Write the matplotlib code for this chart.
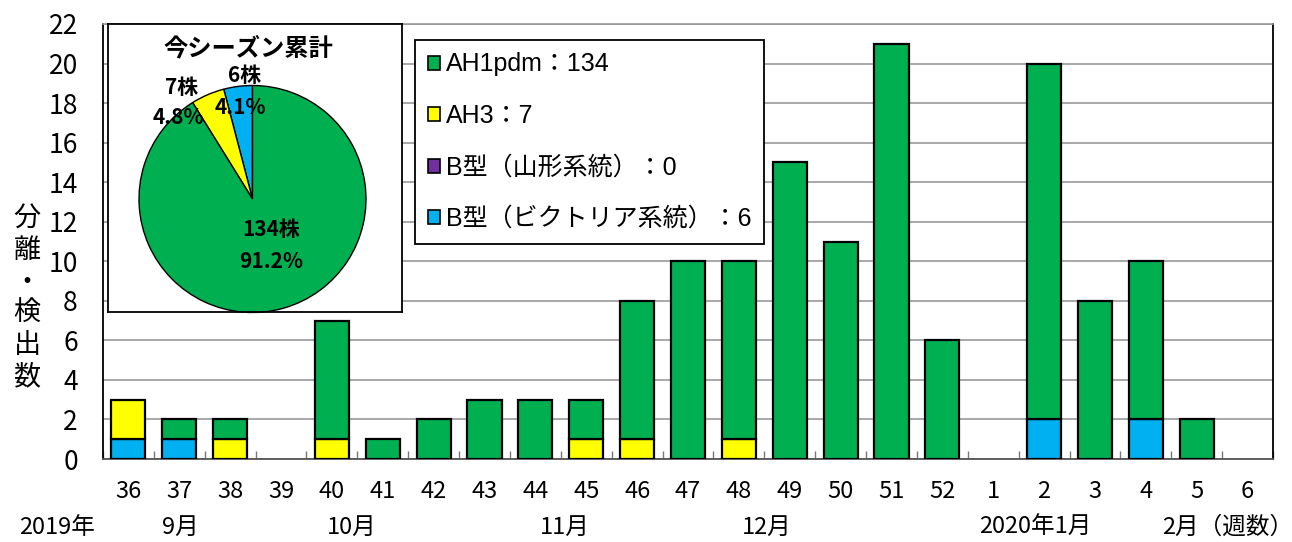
import matplotlib
matplotlib.use("Agg")
from matplotlib import pyplot as plt
from matplotlib.patches import Patch
import numpy as np

plt.rcParams["font.family"] = ["Liberation Sans Narrow", "Noto Sans CJK JP", "DejaVu Sans"]

# weekly counts
weeks = ["36", "37", "38", "39", "40", "41", "42", "43", "44", "45", "46", "47",
         "48", "49", "50", "51", "52", "1", "2", "3", "4", "5", "6"]
ah1pdm = [0, 1, 1, 0, 6, 1, 2, 3, 3, 2, 7, 10, 9, 15, 11, 21, 6, 0, 18, 8, 8, 2, 0]
ah3 = [2, 0, 1, 0, 1, 0, 0, 0, 0, 1, 1, 0, 1, 0, 0, 0, 0, 0, 0, 0, 0, 0, 0]
b_yamagata = [0] * 23
b_victoria = [1, 1, 0, 0, 0, 0, 0, 0, 0, 0, 0, 0, 0, 0, 0, 0, 0, 0, 2, 0, 2, 0, 0]

series_names = ["AH1pdm", "AH3", "B型（山形系統）", "B型（ビクトリア系統）"]
colors = ["#00B050", "#FFFF00", "#7030A0", "#00B0F0"]

month_labels = ["2019年", "9月", "10月", "11月", "12月", "2020年1月", "2月（週数）"]
month_xpix = [57, 180, 352, 565, 767, 1035, 1228]

W, H = 1292, 542
fig = plt.figure(figsize=(W / 100, H / 100), dpi=100)
ax = fig.add_axes([103 / W, 83 / H, 1170 / W, 435 / H])

x = np.arange(len(weeks))
bottom = np.zeros(len(weeks))
stack = [(b_victoria, colors[3]), (b_yamagata, colors[2]), (ah3, colors[1]), (ah1pdm, colors[0])]
for vals, c in stack:
    vals = np.array(vals, dtype=float)
    mask = vals > 0
    ax.bar(x[mask], vals[mask], bottom=bottom[mask], width=0.67, color=c,
           edgecolor="black", linewidth=1.6, zorder=3)
    bottom += vals

ax.set_xlim(-0.5, len(weeks) - 0.5)
ax.set_ylim(0, 22)
ax.set_yticks(range(0, 23, 2))
ax.yaxis.grid(True, color="#999999", linewidth=1.2, zorder=0)
ax.set_axisbelow(True)
ax.set_xticks(x)
ax.set_xticklabels(weeks)
ax.set_xticks(np.arange(-0.5, len(weeks)), minor=True)
ax.tick_params(axis="x", which="major", length=0, pad=15, labelsize=17)
ax.tick_params(axis="x", which="minor", direction="in", length=6, color="#777777", width=1)
ax.tick_params(axis="y", length=0, pad=18, labelsize=19)
for s in ["left", "right"]:
    ax.spines[s].set_color("black")
    ax.spines[s].set_linewidth(1.3)
ax.spines["bottom"].set_color("#555555")
ax.spines["bottom"].set_linewidth(1.3)
ax.spines["top"].set_color("#999999")
ax.spines["top"].set_linewidth(1.2)

# y label, stacked characters
fig.text(27 / W, 1 - 298 / H, "分\n離\n・\n検\n出\n数", ha="center", va="center",
         fontsize=19.5, family=["Noto Sans CJK JP"], linespacing=1.22)

# month row
for lab, px in zip(month_labels, month_xpix):
    fig.text(px / W, 1 - 527 / H, lab, ha="center", va="center", fontsize=17)

# legend
totals = [sum(ah1pdm), sum(ah3), sum(b_yamagata), sum(b_victoria)]
handles = [Patch(facecolor=c, edgecolor="black", linewidth=1.2) for c in colors]
labels = [f"{n}：{t}" for n, t in zip(series_names, totals)]
leg = fig.legend(handles, labels, loc="upper left", bbox_to_anchor=(415 / W, 1 - 40 / H),
                 borderaxespad=0, frameon=True, fancybox=False, edgecolor="black",
                 framealpha=1, handlelength=0.5, handleheight=0.5, handletextpad=0.25,
                 labelspacing=1.1, borderpad=0.5,
                 prop={"family": ["Liberation Sans", "Noto Sans CJK JP"], "size": 18})
leg.get_frame().set_linewidth(1.3)

# inset pie
pax = fig.add_axes([108 / W, (H - 312) / H, 294 / W, 288 / H])
pie_vals = [totals[3], totals[1], totals[0]]
pie_cols = [colors[3], colors[1], colors[0]]
pax.pie(pie_vals, colors=pie_cols, startangle=90, counterclock=True,
        center=(144.5, 113), radius=113.5, frame=True,
        wedgeprops={"edgecolor": "black", "linewidth": 1.0})
pax.set_xlim(0, 294)
pax.set_ylim(0, 288)
pax.set_xticks([])
pax.set_yticks([])
for s in pax.spines.values():
    s.set_color("black")
    s.set_linewidth(1.3)
pax.set_facecolor("white")

total = sum(pie_vals)
bold = dict(ha="center", va="center", fontsize=15, fontweight="bold",
            family=["Noto Sans CJK JP"])


def ptxt(px, py, s, size=15):
    pax.text(px - 108, 312 - py, s, **{**bold, "fontsize": size})


ptxt(248, 48, "今シーズン累計", size=17.5)
ptxt(245, 76, f"{pie_vals[0]}株")
ptxt(240, 108, f"{100 * pie_vals[0] / total:.1f}%")
ptxt(182, 88, f"{pie_vals[1]}株")
ptxt(178, 117, f"{100 * pie_vals[1] / total:.1f}%")
ptxt(271, 229, f"{pie_vals[2]}株")
ptxt(271, 262, f"{100 * pie_vals[2] / total:.1f}%")

fig.savefig("out.png", dpi=100)
